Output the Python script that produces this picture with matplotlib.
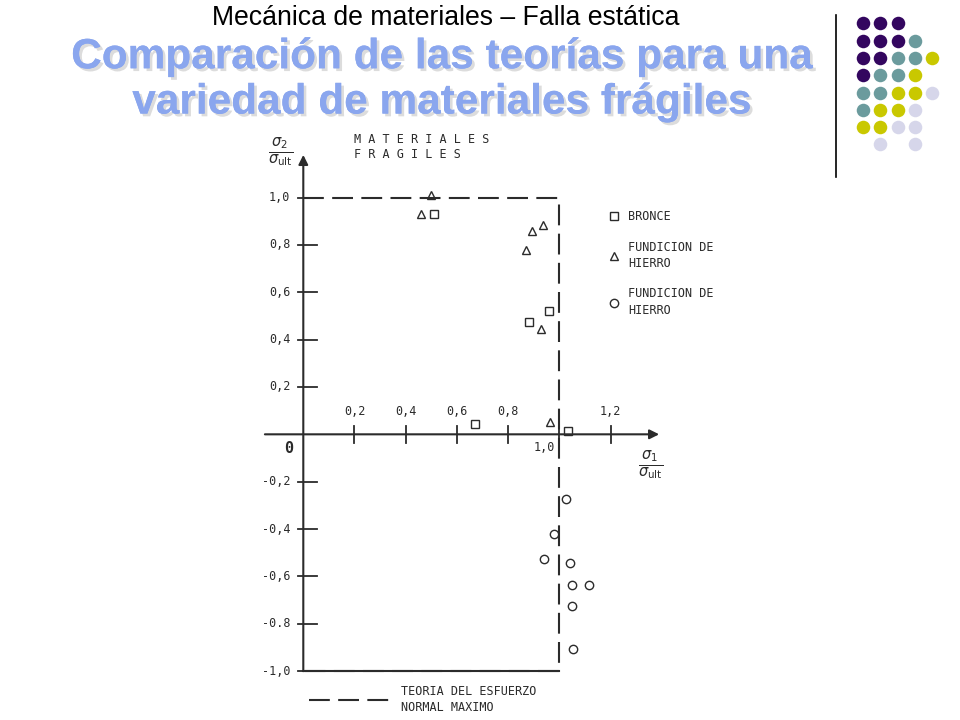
import matplotlib
matplotlib.use('Agg')
import matplotlib.pyplot as plt
import matplotlib.patheffects as pe
from matplotlib.lines import Line2D

# data (sigma / sigma_ult)
bronce_x = [0.51, 0.96, 0.88, 0.67, 1.035]
bronce_y = [0.93, 0.52, 0.475, 0.045, 0.015]
fund_tri_x = [0.50, 0.46, 0.935, 0.895, 0.87, 0.93, 0.965]
fund_tri_y = [1.01, 0.93, 0.885, 0.86, 0.78, 0.445, 0.05]
fund_circ_x = [1.025, 0.98, 0.94, 1.04, 1.05, 1.115, 1.05, 1.055]
fund_circ_y = [-0.275, -0.42, -0.525, -0.545, -0.635, -0.635, -0.725, -0.905]

# maximum normal stress theory boundary
theory_x = [0, 1, 1, 0]
theory_y = [1, 1, -1, -1]

xticks = [0.2, 0.4, 0.6, 0.8, 1.0, 1.2]
xtick_labels = ["0,2", "0,4", "0,6", "0,8", "1,0", "1,2"]
yticks = [-1.0, -0.8, -0.6, -0.4, -0.2, 0.2, 0.4, 0.6, 0.8, 1.0]
ytick_labels = ["-1,0", "-0.8", "-0,6", "-0,4", "-0,2", "0,2", "0,4", "0,6", "0,8", "1,0"]

legend_labels = ["BRONCE", "FUNDICION DE\nHIERRO", "FUNDICION DE\nHIERRO"]
theory_label = "TEORIA DEL ESFUERZO\nNORMAL MAXIMO"

# decoration dots (P purple, T teal, Y yellow, L lavender)
dot_rows = ["PPP..", "PPPT.", "PPTTY", "PTTY.", "TTYYL", "TYYL.", "YYLL.", ".L.L."]
dot_colors = {"P": "#33065f", "T": "#6b9b9d", "Y": "#c9c800", "L": "#d6d6ea"}

MONO = "DejaVu Sans Mono"
INK = "#2b2b2b"

fig = plt.figure(figsize=(9.6, 7.2), dpi=100)

# slide header and title
fig.text(0.464, 0.975, "Mecánica de materiales – Falla estática", ha="center", va="center",
         fontsize=19.2, family="Liberation Sans", color="black")
fig.text(0.461, 0.889, "Comparación de las teorías para una\nvariedad de materiales frágiles",
         ha="center", va="center", fontsize=30.5, fontweight="bold", family="Liberation Sans",
         color="#8aa6ee", linespacing=1.17,
         path_effects=[pe.withSimplePatchShadow(offset=(2, -2), shadow_rgbFace="#a8a8a8", alpha=0.4),
                       pe.Normal()])

# right-hand decoration
deco = fig.add_axes([0, 0, 1, 1], zorder=-1)
deco.set_xlim(0, 960)
deco.set_ylim(720, 0)
deco.axis("off")
deco.plot([836, 836], [15, 177], color="black", lw=1.2)
for r, row in enumerate(dot_rows):
    for c, key in enumerate(row):
        if key in dot_colors:
            deco.scatter(862.7 + 17.4 * c, 23.3 + 17.3 * r, s=95, color=dot_colors[key], lw=0)

# main chart
ax = fig.add_axes([252.1 / 960, 1.5 / 720, 422.4 / 960, 580.2 / 720])
ax.set_xlim(-0.2, 1.45)
ax.set_ylim(-1.2, 1.25)
ax.patch.set_alpha(0)
for side in ["top", "right", "bottom", "left"]:
    ax.spines[side].set_visible(False)

# axes with arrows
ax.annotate("", xy=(1.39, 0), xytext=(-0.15, 0),
            arrowprops=dict(arrowstyle="-|>", color=INK, lw=1.5, mutation_scale=14, shrinkA=0, shrinkB=0))
ax.annotate("", xy=(0, 1.18), xytext=(0, -1.0),
            arrowprops=dict(arrowstyle="-|>", color=INK, lw=1.5, mutation_scale=14, shrinkA=0, shrinkB=0))

# ticks drawn by hand so they sit on the centred axes
for x in xticks:
    ax.plot([x, x], [-0.035, 0.035], color=INK, lw=1.3)
for x, lab in zip(xticks, xtick_labels):
    if lab == "1,0":
        ax.text(x - 0.015, -0.03, lab, ha="right", va="top", fontsize=8.5, family=MONO, color=INK)
    else:
        ax.text(x, 0.07, lab, ha="center", va="bottom", fontsize=8.5, family=MONO, color=INK)
for y, lab in zip(yticks, ytick_labels):
    ax.plot([-0.02, 0.055], [y, y], color=INK, lw=1.3)
    ax.text(-0.05, y, lab, ha="right", va="center", fontsize=8.5, family=MONO, color=INK)
ax.set_xticks([])
ax.set_yticks([])

ax.text(-0.04, -0.03, "0", ha="right", va="top", fontsize=11, family=MONO, fontweight="bold", color=INK)
ax.text(-0.09, 1.19, r"$\frac{\sigma_2}{\sigma_{\mathrm{ult}}}$", ha="center", va="center",
        fontsize=15, color=INK)
ax.text(1.355, -0.13, r"$\frac{\sigma_1}{\sigma_{\mathrm{ult}}}$", ha="center", va="center",
        fontsize=15, color=INK)
ax.text(0.2, 1.213, "M A T E R I A L E S\nF R A G I L E S", ha="left", va="center",
        fontsize=8.5, family=MONO, color=INK, linespacing=1.15)

# theory boundary
ax.plot(theory_x, theory_y, color=INK, lw=1.5, ls=(0, (10, 4)))
ax.plot(theory_x[2:], theory_y[2:], color=INK, lw=1.5)

mk = dict(mfc="none", mec=INK, mew=1.0, ls="none", ms=6)
h_sq, = ax.plot(bronce_x, bronce_y, marker="s", **mk)
h_tri, = ax.plot(fund_tri_x, fund_tri_y, marker="^", **mk)
h_circ, = ax.plot(fund_circ_x, fund_circ_y, marker="o", **mk)

leg = ax.legend([h_sq, h_tri, h_circ], legend_labels, loc="upper left",
                bbox_to_anchor=(1.15, 0.99), bbox_transform=ax.transData, frameon=False,
                handlelength=1.0, handletextpad=0.7, labelspacing=1.45,
                prop=dict(family=MONO, size=8.5))
for t in leg.get_texts():
    t.set_color(INK)
    t.set_linespacing(1.35)
ax.add_artist(leg)

h_theory = Line2D([], [], color=INK, lw=1.5, ls=(0, (10, 4)))
leg2 = ax.legend([h_theory], [theory_label], loc="center left",
                 bbox_to_anchor=(-0.02, -1.12), bbox_transform=ax.transData, frameon=False,
                 handlelength=7.0, handletextpad=0.8, prop=dict(family=MONO, size=8.5))
for t in leg2.get_texts():
    t.set_color(INK)
    t.set_linespacing(1.35)

fig.savefig("out.png", dpi=100)
